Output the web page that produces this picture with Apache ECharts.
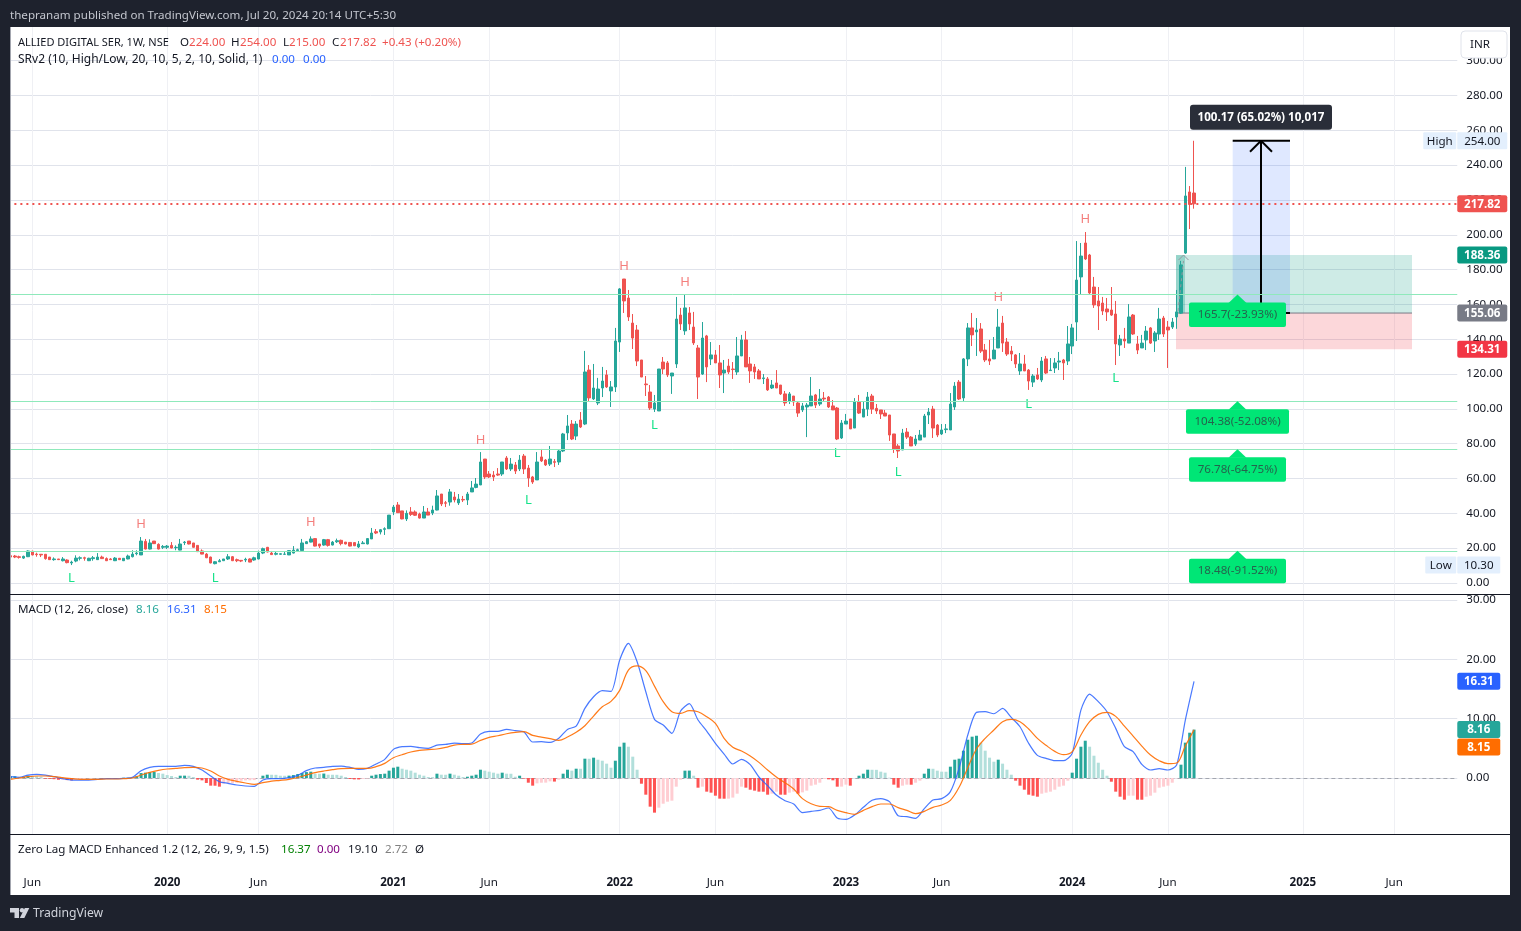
<!DOCTYPE html>
<html><head><meta charset="utf-8"><title>ALLIED DIGITAL SER</title>
<script src="https://cdn.jsdelivr.net/npm/echarts@6/dist/echarts.min.js"></script>
<style>html,body{margin:0;padding:0;background:#1e222d}#c{width:1521px;height:931px}</style></head>
<body><div id="c"></div>
<script>
const FONT='"Noto Sans",sans-serif';
const FS=11.6;
const opens=[15.7,15.5,15.1,14.3,15.1,18.2,16.6,16.5,16.5,14.9,
13.4,13.8,12.8,13.2,11.5,12.6,14.2,14.5,12.8,14.0,
13.4,14.9,14.0,13.8,12.8,14.2,12.8,13.8,15.1,16.8,
16.1,23.9,19.5,24.1,22.2,20.5,20.5,21.6,20.3,18.9,
23.2,24.1,23.0,21.6,18.4,16.6,14.9,11.1,12.2,12.8,
13.8,15.1,13.4,13.0,13.2,13.8,13.2,13.8,17.2,20.5,
17.2,16.5,16.5,16.5,16.1,17.2,18.6,18.6,22.6,23.5,
25.5,22.4,21.8,24.9,21.8,23.7,24.5,23.5,23.3,23.2,
20.7,22.6,22.4,25.3,29.5,29.3,30.8,31.2,40.8,44.8,
41.4,36.8,40.8,40.8,39.6,37.3,40.8,40.2,41.9,51.1,
46.1,46.5,49.4,46.0,48.0,47.7,52.3,54.9,56.3,71.2,
62.6,62.0,62.6,62.6,71.8,65.5,67.8,65.5,72.9,66.0,
60.9,59.2,72.4,70.6,68.3,69.7,69.5,75.8,86.2,91.3,
84.4,93.6,91.3,122.3,105.7,103.4,112.0,119.5,110.3,112.6,
138.4,174.6,163.7,149.3,145.3,128.1,114.3,109.7,99.9,98.8,
126.9,126.4,118.9,125.8,153.9,144.8,155.1,147.0,135.0,120.0,
141.9,128.7,131.0,126.4,120.6,124.6,122.9,121.2,130.4,139.6,
125.8,124.1,121.8,117.4,117.2,112.0,114.9,113.7,108.6,104.5,
107.4,103.4,99.4,101.1,101.7,108.0,102.8,106.2,106.8,101.7,
100.5,83.3,91.3,94.2,89.0,104.0,95.3,99.9,107.4,100.3,
99.4,97.6,96.5,85.6,78.7,76.4,86.7,83.8,79.8,82.1,
83.8,96.5,99.9,90.7,85.6,88.1,87.9,101.1,115.4,106.3,
128.7,146.5,144.2,145.9,133.8,128.7,128.7,135.0,149.3,138.4,
133.2,131.0,121.8,125.8,122.3,115.4,119.5,116.6,128.7,122.0,
123.5,126.9,128.1,127.5,136.1,149.9,175.8,195.3,188.4,170.0,
162.0,160.8,157.4,156.8,154.5,136.7,140.1,137.8,153.9,137.3,
135.0,139.6,146.5,139.0,143.0,152.2,147.0,147.0,152.8,155.0,
189.5,224.6,224.0];
const highs=[16.1,16.1,15.7,15.7,18.8,18.6,17.4,16.6,16.6,14.9,
14.7,13.8,14.9,13.6,12.8,15.9,15.3,15.1,14.5,15.5,
17.2,15.7,14.7,14.3,14.9,14.3,14.3,16.3,18.8,18.8,
26.4,25.3,25.1,24.1,22.8,21.8,21.8,23.5,21.6,25.3,
24.1,24.1,23.0,21.6,19.3,17.2,15.1,12.6,13.8,13.8,
16.6,15.5,14.0,13.2,14.5,14.2,15.1,18.6,20.3,20.7,
18.4,17.8,17.0,17.8,18.9,21.2,19.7,25.3,24.1,26.8,
25.6,22.4,25.3,25.3,24.1,25.5,24.9,23.5,23.3,23.2,
24.1,24.1,25.8,31.6,31.0,31.0,32.0,39.0,44.8,46.5,
41.4,41.7,43.6,41.7,40.4,44.2,43.1,44.4,53.4,51.1,
47.1,54.0,52.3,51.1,50.0,52.3,58.6,60.3,75.2,71.2,
64.3,64.3,66.0,69.5,72.9,71.8,69.5,73.5,74.1,67.8,
61.5,75.2,77.0,71.2,78.7,71.2,76.4,86.2,96.5,93.6,
93.0,98.2,133.3,125.2,125.8,117.8,124.1,122.3,116.0,146.5,
169.4,174.6,168.3,154.5,148.2,128.1,118.9,113.7,108.0,122.9,
129.8,127.5,120.6,164.3,158.0,166.0,158.5,155.7,136.7,149.9,
142.5,138.4,133.8,136.7,128.1,128.7,126.9,141.3,142.5,144.7,
129.8,125.8,122.9,120.0,118.3,116.6,122.3,113.7,110.3,109.7,
107.4,104.0,103.4,103.4,118.3,108.6,111.4,109.7,107.4,105.1,
101.1,93.6,97.1,94.2,106.2,108.0,104.5,109.7,108.6,102.8,
99.4,99.4,96.5,85.6,79.8,88.5,89.0,84.4,85.0,87.9,
97.1,100.5,101.7,91.3,91.3,91.3,109.1,115.4,116.6,129.2,
149.3,155.1,152.2,149.3,137.3,139.6,141.3,157.4,153.4,140.7,
136.1,131.5,132.1,131.0,122.9,120.0,123.5,129.8,130.4,129.2,
129.2,132.7,128.7,147.6,148.8,196.4,195.3,201.6,189.0,175.8,
170.0,164.3,163.7,170.0,162.0,142.5,146.5,160.2,154.5,141.9,
142.5,147.6,147.0,144.7,158.0,153.4,150.5,152.2,168.3,185.0,
239.0,228.0,254.0];
const lows=[14.3,14.3,14.0,13.8,14.9,15.9,15.1,14.9,13.4,13.2,
12.8,13.2,12.4,11.3,10.3,11.9,13.0,12.8,12.6,12.8,
13.2,13.8,12.6,13.2,12.6,13.2,12.6,13.6,14.7,15.9,
16.1,19.3,19.3,22.4,19.3,19.5,19.5,19.9,18.8,18.8,
21.8,22.2,20.3,17.8,16.5,14.3,11.3,10.7,12.0,12.8,
13.2,12.6,12.0,12.0,12.0,11.9,12.8,13.6,16.6,17.6,
16.1,15.9,16.3,16.1,16.1,17.0,18.0,18.4,22.4,23.3,
21.0,20.1,21.4,20.9,21.6,23.0,21.6,22.2,21.0,21.2,
20.1,22.4,22.2,25.3,28.1,27.9,27.6,31.0,39.0,40.2,
36.6,35.6,38.5,38.5,37.0,37.3,39.0,39.0,41.7,44.2,
43.6,44.4,46.3,44.8,46.5,44.8,52.3,54.4,56.3,59.7,
60.3,58.6,61.5,61.5,64.9,64.3,62.6,64.3,62.6,55.2,
56.9,59.2,69.5,67.2,67.2,66.6,67.8,75.2,82.1,82.1,
82.1,89.0,90.7,104.5,105.1,102.2,106.8,112.0,101.1,109.7,
132.7,155.1,150.5,134.4,124.6,118.3,107.4,99.4,98.2,98.8,
120.0,118.3,108.6,123.5,145.3,142.5,145.3,136.7,105.7,119.5,
115.4,125.2,126.4,112.0,109.1,120.0,117.2,119.5,130.4,124.1,
114.9,117.2,117.2,114.3,110.3,111.4,112.0,108.0,101.7,102.8,
101.7,95.4,98.2,83.8,101.7,100.5,101.7,104.5,100.5,99.4,
82.1,82.7,91.3,88.5,89.0,97.1,95.3,95.9,97.1,97.1,
94.2,95.9,81.6,74.7,71.8,76.4,82.7,78.7,78.7,82.1,
83.8,91.3,83.3,83.8,85.0,86.1,87.9,99.4,105.1,104.0,
124.6,136.1,130.4,132.1,126.9,125.2,128.7,135.0,132.7,130.4,
127.5,123.5,119.5,121.8,110.9,112.6,116.6,115.4,120.0,121.8,
120.6,122.3,116.6,125.2,131.5,139.0,166.0,185.5,166.0,158.0,
145.3,153.9,150.5,153.4,125.2,130.4,135.0,137.8,142.5,131.5,
135.0,133.8,137.3,132.7,139.6,141.3,123.5,145.9,146.0,154.5,
189.0,203.3,215.0];
const closes=[14.9,14.9,14.7,15.3,18.4,16.1,16.3,16.1,14.0,13.4,
13.8,13.4,13.8,11.7,12.0,14.3,14.5,14.2,14.2,14.5,
14.9,14.0,12.8,13.4,14.3,13.4,14.2,15.5,16.6,17.2,
24.1,19.5,23.0,22.6,19.5,21.0,21.2,20.1,20.5,22.4,
23.5,22.4,20.5,18.0,16.6,14.5,11.5,12.2,12.8,13.8,
15.1,12.8,12.8,12.6,13.6,12.0,14.5,17.2,19.7,17.8,
16.3,17.0,16.8,16.6,18.6,18.9,19.1,23.0,23.7,25.3,
21.2,21.2,24.9,21.6,23.5,24.3,22.6,22.4,21.2,21.4,
22.4,23.0,25.5,28.7,28.7,30.6,31.2,39.0,43.6,40.4,
36.8,40.0,39.4,38.9,37.3,40.8,39.0,41.9,50.0,45.4,
45.8,52.3,47.7,48.2,47.7,51.1,54.6,56.8,69.5,60.9,
60.9,60.9,62.0,69.5,65.5,68.3,64.3,70.6,65.5,60.3,
58.0,69.5,70.1,67.8,71.2,69.3,75.8,85.6,90.2,82.7,
91.3,89.6,121.2,106.3,112.0,111.4,116.0,112.6,112.6,139.0,
168.9,162.0,152.8,140.7,127.5,118.3,113.9,100.5,103.4,122.9,
122.9,119.5,120.6,151.6,148.8,158.0,148.8,137.9,118.3,140.7,
124.1,131.0,126.4,119.5,122.3,121.2,122.6,130.4,139.6,124.1,
121.8,121.2,117.2,117.8,110.9,113.7,112.0,108.6,103.4,108.6,
104.0,97.6,101.7,102.2,107.4,102.2,105.7,105.7,101.1,99.4,
82.7,91.9,93.0,88.5,104.0,97.6,99.9,106.8,99.9,98.8,
97.1,95.9,85.0,77.0,75.8,86.1,83.8,78.7,82.7,85.0,
95.9,98.2,89.0,85.0,87.9,88.5,102.8,113.1,105.7,128.7,
146.5,142.5,145.3,133.2,128.1,127.5,133.8,147.0,137.8,131.5,
131.5,125.8,125.8,121.8,116.0,118.9,117.2,127.5,120.6,122.3,
126.4,127.5,126.4,137.3,146.5,174.0,187.8,186.1,166.6,159.7,
159.1,156.2,155.7,153.9,137.3,140.1,139.0,152.8,143.0,133.8,
137.8,144.7,137.8,143.6,151.6,143.0,145.3,149.9,155.7,182.7,
222.3,217.39,217.82];
const histogram=[.3,.3,.2,.2,.4,.35,.3,.2,-.1,-.15,
-.2,-.3,-.3,-.35,-.4,-.2,-.15,-.1,-.05,-.05,
0,0,0,0,0,0,.05,.05,.1,.3,
.84,.9,1,1.01,.84,.73,.5,.34,.17,.39,
.4,.38,.17,-.28,-.39,-.84,-1.29,-1.3,-1.46,-.95,
-.9,-.85,-.8,-.45,-.4,-.38,-.35,0,.39,.56,
.55,.54,.39,.38,.4,.5,.67,.84,1,1.07,
.73,.72,.75,.56,.55,.54,.39,.17,-.17,-.23,
-.24,-.17,-.1,.39,.56,.67,.73,1.24,1.74,1.91,
1.57,1.4,1.24,.9,.56,.39,.17,.15,.73,.56,
.55,.73,.56,.39,.17,.22,.39,.56,1.4,1.24,
1.07,.9,.73,.9,.73,.72,.22,.39,-.1,-.79,
-1.29,-.9,-.79,-.78,-.56,-.6,-.28,.73,1.4,1.24,
1.57,1.56,3.26,3.25,3.43,3.09,2.92,2.42,1.74,2.92,
5.28,5.96,5.28,3.6,1.4,-.96,-2.81,-4.83,-5.84,-5,
-4.33,-3.99,-3.82,-1.46,-.28,1.24,1.25,.39,-1.63,-1.46,
-2.3,-2.47,-2.98,-3.48,-3.49,-3.48,-3.3,-2.64,-1.46,-1.63,
-1.97,-2.13,-2.3,-2.31,-2.81,-2.64,-2.3,-2.81,-2.82,-2.47,
-2.3,-2.64,-2.42,-2.13,-1.29,-1.12,-.79,-.17,-.22,-.39,
-1.46,-1.45,-1.12,-1.29,0,.39,.73,1.4,1.39,1.38,
1.07,.9,.05,-1.12,-1.63,-1.29,-1.12,-1.13,-.79,-.45,
.73,1.57,1.56,1.24,1.07,1.06,1.91,3.09,3.26,4.61,
6.46,6.97,7.13,5.96,4.61,3.43,2.75,3.09,2.42,1.4,
.56,-.45,-1.29,-1.97,-2.81,-2.98,-3.15,-2.64,-2.47,-2.3,
-1.97,-1.46,-1.29,-.45,.9,3.26,5.28,6.29,5.28,3.76,
2.58,1.4,.39,-.62,-2.3,-3.15,-3.65,-2.98,-2.97,-3.65,
-3.66,-3.15,-2.98,-2.47,-1.63,-1.46,-1.29,-.79,-.05,2.25,
5.96,7.64,8.16];
// MACD lines, read every second week
const macdLine=[.22,.11,.5,.62,.5,.22,-.11,-.34,-.34,-.34,-.22,-.11,-.11,-.06,.11,1.24,1.8,1.97,1.97,1.97,2.13,1.97,1.35,.34,-.62,-.9,-1.18,-1.35,-1.4,-.34,-.11,-.11,.06,.45,1.24,1.69,1.8,1.97,2.02,1.8,1.46,1.63,2.36,3.15,4.83,5.28,
5.34,5.11,5.0,5.56,5.67,5.9,5.79,5.9,7.42,7.87,7.87,8.2,7.98,7.75,6.07,6.12,6.01,6.69,8.2,8.76,11.74,13.7,14.72,14.6,19.9,22.7,19.6,14.55,9.89,8.93,7.53,11.3,12.53,9.78,7.92,5.84,4.04,2.36,3.15,2.25,.17,-1.29,-2.87,-3.82,-4.38,
-5.84,-5.62,-5.45,-5.06,-6.74,-6.97,-6.24,-4.94,-3.76,-3.48,-3.99,-6.35,-6.52,-6.8,-5.17,-3.71,-3.48,-2.3,1.63,7.25,11.07,11.18,10.84,11.74,10.22,8.65,5.84,3.82,3.31,2.92,2.92,4.16,11.46,14.16,12.87,11.18,8.37,5.28,4.44,2.3,1.35,1.57,1.35,2.19,9.78,16.31];
const signalLine=[-.22,0,.22,.34,.34,.22,.06,-.11,-.22,-.22,-.22,-.17,-.17,-.11,0,.5,.96,1.29,1.52,1.63,1.74,1.8,1.69,1.18,.34,-.22,-.56,-.84,-1.07,-.79,-.51,-.39,-.22,.11,.5,.9,1.18,1.4,1.57,1.63,1.63,1.63,1.91,2.47,3.43,3.93,
4.38,4.66,4.78,4.89,5.17,5.56,5.67,5.73,6.35,6.85,7.13,7.47,7.7,7.81,7.19,6.91,6.63,6.35,6.91,7.7,8.82,10.45,12.02,12.92,14.78,18.2,18.9,18.09,15.5,12.87,11.18,10.9,11.35,11.18,10.34,9.21,6.69,5.17,4.55,3.71,2.64,1.35,.17,-.79,-1.85,
-3.48,-4.33,-4.78,-4.83,-5.45,-5.84,-6.12,-5.45,-4.83,-4.38,-4.38,-5.0,-5.45,-6.01,-5.62,-4.94,-4.55,-3.76,-1.57,1.74,4.89,6.69,8.09,9.49,9.89,9.49,8.26,6.69,5.51,4.49,3.93,4.44,7.25,9.49,10.73,11.07,10.39,8.76,7.08,5.39,3.88,2.92,2.42,2.53,5.39,8.15];
const tickIndex=[5,36,57,88,110,140,162,192,214,244,266,297,318];
const tickLabels=['Jun','2020','Jun','2021','Jun','2022','Jun','2023','Jun','2024','Jun','2025','Jun'];
const priceTicks=[0,20,40,60,80,100,120,140,160,180,200,220,240,260,280,300];
const macdTicks=[0,10,20,30];
const supportLevels=[165.7,104.38,76.78,18.48];
const supportLabels=['165.7(-23.93%)','104.38(-52.08%)','76.78(-64.75%)','18.48(-91.52%)'];
const highMarks=[[30,34.5],[69,35.6],[108,82.7],[141,182.7],[155,173.5],[227,164.8],[247,209.6]];
const lowMarks=[[14,3.4],[47,3.4],[119,48.2],[148,91.3],[190,75.2],[204,64.3],[234,103.4],[254,118.3]];
const priceTagValues=[217.82,188.36,155.06,134.31];
const priceTagColors=['#ef5350','#089981','#787b86','#f23645'];
const macdTagValues=[16.31,8.16,5.23];
const macdTagLabels=['16.31','8.16','8.15'];
const macdTagColors=['#2962ff','#26a69a','#ff6d00'];
const last=217.82,entry=155.06,target=188.36,stop=134.31,high=254,low=10.3;

const BAND=333, L=8.37, W=1448.9;
const categories=Array.from({length:BAND},(_,i)=>String(i));
const candles=opens.map((o,i)=>[o,closes[i],lows[i],highs[i]]);
const GRID='#e0e3eb',VG='#eff0f4',TXT='#131722';
const xv=p=>(p-L)/(W/BAND);   // pane pixel to continuous week position for drawing tools

function tagShape(x,y,w,h,fill,r){return {type:'rect',shape:{x,y,width:w,height:h,r:r==null?2:r},style:{fill}};}
function textEl(x,y,t,fill,size,weight,align){return {type:'text',style:{x,y:y+1,text:t,fill,font:(weight||'normal')+' '+(size||FS)+'px '+FONT,textAlign:align||'center',textVerticalAlign:'middle'}};}

const valueX=(grid,extra)=>Object.assign({type:'value',gridIndex:grid,min:0,max:BAND,position:'bottom',
  axisLine:{show:false},axisTick:{show:false,customValues:tickIndex.map(i=>i+.5)},
  axisLabel:{show:false,customValues:tickIndex.map(i=>i+.5)},
  splitLine:{show:grid!==2,lineStyle:{color:VG,width:1}}},extra||{});

const t=(x,y,text,fill,o)=>Object.assign({type:'text',z:110,silent:true,style:{x,y:y+1,text,fill,font:((o&&o.w)||'normal')+' '+((o&&o.s)||FS)+'px '+FONT,textVerticalAlign:'middle'}});

const graphic=[
 {type:'rect',z:-10,silent:true,shape:{x:10,y:27,width:1500,height:868},style:{fill:'#fff'}},
 {type:'rect',z:100,silent:true,shape:{x:0,y:27,width:10,height:868},style:{fill:'#1e222d'}},
 {type:'rect',z:100,silent:true,shape:{x:10,y:27,width:1,height:868},style:{fill:'#a3a6af'}},
 {type:'rect',z:100,silent:true,shape:{x:10,y:594,width:1500,height:1},style:{fill:'#131722'}},
 {type:'rect',z:100,silent:true,shape:{x:10,y:834,width:1500,height:1},style:{fill:'#131722'}},
 {type:'rect',z:100,silent:true,shape:{x:1461,y:31,width:46,height:27,r:4},style:{fill:'#fff',stroke:'#e0e3eb',lineWidth:1}},
 t(1470,44,'INR',TXT),
 t(10,14.5,'thepranam published on TradingView.com, Jul 20, 2024 20:14 UTC+5:30','#c3c6ce'),
 t(18,41.5,'ALLIED DIGITAL SER, 1W, NSE',TXT,{s:11}),
 t(180,41.5,'O',TXT),t(189,41.5,'224.00','#ef5350'),
 t(231,41.5,'H',TXT),t(240,41.5,'254.00','#ef5350'),
 t(283,41.5,'L',TXT),t(289,41.5,'215.00','#ef5350'),
 t(332,41.5,'C',TXT),t(340,41.5,'217.82','#ef5350'),
 t(382,41.5,'+0.43 (+0.20%)','#ef5350'),
 t(18,58.5,'SRv2 (10, High/Low, 20, 10, 5, 2, 10, Solid, 1)',TXT,{s:12}),
 t(272,58.5,'0.00','#2962ff'),t(303,58.5,'0.00','#2962ff'),
 t(18,609,'MACD (12, 26, close)',TXT),
 t(136,609,'8.16','#26a69a'),t(167,609,'16.31','#2962ff'),t(204,609,'8.15','#ff6d00'),
 t(18,849,'Zero Lag MACD Enhanced 1.2 (12, 26, 9, 9, 1.5)',TXT),
 t(281,849,'16.37','#008000'),t(317,849,'0.00','#800080'),t(348,849,'19.10',TXT),t(385,849,'2.72','#808080'),t(415,849,'Ø',TXT),
 {type:'polygon',z:110,silent:true,shape:{points:[[10,908],[19,908],[19,918],[14.5,918],[14.5,912.5],[10,912.5]]},style:{fill:'#d1d4dc'}},
 {type:'circle',z:110,silent:true,shape:{cx:22,cy:910.2,r:2.2},style:{fill:'#d1d4dc'}},
 {type:'polygon',z:110,silent:true,shape:{points:[[24.8,908],[29.3,908],[24.3,918],[19.8,918]]},style:{fill:'#d1d4dc'}},
 t(33,912.5,'TradingView','#d1d4dc',{s:12.2})
];

const option={
 animation:false,backgroundColor:'#1e222d',graphic,
 grid:[{left:L,width:W,top:27,height:567},{left:L,width:W,top:595,height:239},{left:L,width:W,top:835,height:35}],
 xAxis:[
  {type:'category',gridIndex:0,data:categories,show:false},
  {type:'category',gridIndex:1,data:categories,show:false},
  valueX(0),valueX(1),
  valueX(2,{axisLabel:{show:true,customValues:tickIndex.map(i=>i+.5),margin:7,color:TXT,fontFamily:FONT,fontSize:FS,
    formatter:v=>{const s=tickLabels[tickIndex.indexOf(Math.round(v-.5))]||'';return /^\d/.test(s)?'{y|'+s+'}':s;},
    rich:{y:{fontWeight:'bold',color:TXT,fontFamily:FONT,fontSize:FS}}}})
 ],
 yAxis:[
  {type:'value',gridIndex:0,position:'right',min:-6.32,max:319.35,
   axisLine:{show:false},axisTick:{show:false,customValues:priceTicks},
   axisLabel:{customValues:priceTicks,margin:9,padding:[2,0,0,0],color:TXT,fontFamily:FONT,fontSize:FS,formatter:v=>v.toFixed(2)},
   splitLine:{show:true,lineStyle:{color:GRID,width:1}}},
  {type:'value',gridIndex:1,position:'right',min:-9.44,max:30.86,
   axisLine:{show:false},axisTick:{show:false,customValues:macdTicks},
   axisLabel:{customValues:macdTicks,margin:9,padding:[2,0,0,0],color:TXT,fontFamily:FONT,fontSize:FS,formatter:v=>v.toFixed(2)},
   splitLine:{show:true,lineStyle:{color:GRID,width:1}}},
  {type:'value',gridIndex:2,show:false,min:0,max:1}
 ],
 series:[
  // long-position shading and measuring box
  {type:'custom',xAxisIndex:2,yAxisIndex:0,z:1,silent:true,data:[[0,0]],renderItem:(p,api)=>{
    const X=api.coord([xv(1176),0])[0],X2=api.coord([xv(1412),0])[0],B=api.coord([xv(1185),0])[0];
    const yT=api.coord([0,target])[1],yE=api.coord([0,entry])[1],yS=api.coord([0,stop])[1],yH=api.coord([0,high])[1];
    const M1=api.coord([xv(1232.7),0])[0],M2=api.coord([xv(1290),0])[0];
    return {type:'group',children:[
     tagShape(X,yT,X2-X,yE-yT,'rgba(8,153,129,0.2)',0),
     tagShape(X,yE,X2-X,yS-yE,'rgba(242,54,69,0.2)',0),
     tagShape(X,yT,B-X,yE-yT,'rgba(8,153,129,0.28)',0),
     tagShape(M1,yH,M2-M1,yE-yH,'rgba(41,98,255,0.15)',0),
     {type:'line',shape:{x1:X,y1:yE,x2:X2,y2:yE},style:{stroke:'#787b86',lineWidth:1}}
    ]};
  }},
  {type:'candlestick',xAxisIndex:0,yAxisIndex:0,z:2,barWidth:3,silent:true,data:candles,
   itemStyle:{color:'#26a69a',color0:'#ef5350',borderColor:'#26a69a',borderColor0:'#ef5350',borderWidth:1},
   markLine:{silent:true,symbol:'none',label:{show:false},animation:false,
    data:supportLevels.map(v=>({yAxis:v,lineStyle:{color:'#8fe9bb',width:1,type:'solid'}})).concat([{yAxis:last,lineStyle:{color:'#ef5350',width:2,type:[2,4]}}])}},
  // arrow of the measuring tool
  {type:'custom',xAxisIndex:2,yAxisIndex:0,z:3,silent:true,data:[[0,0]],renderItem:(p,api)=>{
    const cx=api.coord([xv(1261),0])[0],yH=api.coord([0,high])[1],yE=api.coord([0,entry])[1];
    const M1=api.coord([xv(1232.7),0])[0],M2=api.coord([xv(1290),0])[0];
    const a=api.coord([xv(1178),0])[0],b=api.coord([xv(1183.5),0])[0],yT=api.coord([0,target])[1];
    const ln=(x1,y1,x2,y2,w)=>({type:'line',shape:{x1,y1,x2,y2},style:{stroke:'#000',lineWidth:w}});
    return {type:'group',children:[
     ln(M1,yH,M2,yH,2),ln(M1,yE,M2,yE,2),ln(cx,yH,cx,yE,2),ln(cx,yH,cx-11,yH+11,2),ln(cx,yH,cx+11,yH+11,2),
     {type:'line',shape:{x1:a,y1:yE-2,x2:b,y2:yT+6},style:{stroke:'#9598a1',lineWidth:1,lineDash:[3,3]}},
     {type:'polyline',shape:{points:[[b-5,yT+5],[b,yT],[b+5,yT+5]]},style:{stroke:'#9598a1',lineWidth:1,fill:'none'}}
    ]};
  }},
  // H / L pivot marks
  {type:'custom',xAxisIndex:0,yAxisIndex:0,z:4,silent:true,data:highMarks,renderItem:(p,api)=>{
    const c=api.coord([api.value(0),api.value(1)]);
    return textEl(c[0],c[1],'H','#f47f7d',13);
  }},
  {type:'custom',xAxisIndex:0,yAxisIndex:0,z:4,silent:true,data:lowMarks,renderItem:(p,api)=>{
    const c=api.coord([api.value(0),api.value(1)]);
    return textEl(c[0],c[1],'L','#17e28a',13);
  }},
  // support level labels
  {type:'custom',xAxisIndex:2,yAxisIndex:0,z:5,silent:true,data:supportLevels.map(v=>[xv(1237.5),v]),renderItem:(p,api)=>{
    const c=api.coord([api.value(0),api.value(1)]),w=p.dataIndex===1?103:97;
    return {type:'group',children:[
      {type:'polygon',shape:{points:[[c[0],c[1]],[c[0]+9,c[1]+8.5],[c[0]-9,c[1]+8.5]]},style:{fill:'#00e676'}},
      tagShape(c[0]-w/2,c[1]+8,w,24.5,'#00e676',2),
      textEl(c[0],c[1]+19,supportLabels[p.dataIndex],'#25634d',FS)
    ]};
  }},
  // measure caption
  {type:'custom',xAxisIndex:2,yAxisIndex:0,z:6,silent:true,data:[[xv(1261),high]],renderItem:(p,api)=>{
    const c=api.coord([api.value(0),api.value(1)]);
    return {type:'group',children:[
      tagShape(c[0]-71,c[1]-36,142,25,'#2a2e39',3),
      textEl(c[0],c[1]-24.5,'100.17 (65.02%) 10,017','#fff',11.6,'bold')
    ]};
  }},
  // price scale tags
  {type:'custom',xAxisIndex:2,yAxisIndex:0,z:7,silent:true,data:priceTagValues.map(v=>[BAND,v]),renderItem:(p,api)=>{
    const c=api.coord([api.value(0),api.value(1)]);
    return {type:'group',children:[tagShape(c[0],c[1]-8.5,50,17,priceTagColors[p.dataIndex]),
      textEl(c[0]+25,c[1]-.5,priceTagValues[p.dataIndex].toFixed(2),'#fff',11.6,'bold')]};
  }},
  {type:'custom',xAxisIndex:2,yAxisIndex:0,z:7,silent:true,data:[[BAND,high],[BAND,low]],renderItem:(p,api)=>{
    const c=api.coord([api.value(0),api.value(1)]),hi=p.dataIndex===0;
    const lab=hi?'High':'Low',val=hi?'254.00':'10.30',w=hi?50:43,lw=hi?33:31;
    return {type:'group',children:[
      tagShape(c[0]-lw-1,c[1]-8.5,lw,17,'#e3effd',1),textEl(c[0]-lw/2-1,c[1]-.5,lab,'#131722'),
      tagShape(c[0],c[1]-8.5,w,17,'#e3effd',1),textEl(c[0]+w/2,c[1]-.5,val,'#131722')]};
  }},
  // MACD
  {type:'bar',xAxisIndex:1,yAxisIndex:1,z:2,barWidth:3,silent:true,data:histogram,
   itemStyle:{color:p=>{const v=p.value,prev=p.dataIndex?histogram[p.dataIndex-1]:0;
     return v>=0?(v>=prev?'#26a69a':'#b2dfdb'):(v<prev?'#ff5252':'#ffcdd2');}},
   markLine:{silent:true,symbol:'none',label:{show:false},animation:false,z:1,
     data:[{yAxis:0,lineStyle:{color:'#a3a6af',width:1,type:[4,3]}}]}},
  {type:'line',xAxisIndex:1,yAxisIndex:1,z:3,silent:true,symbol:'none',smooth:.25,data:macdLine.map((v,k)=>[k*2,v]),lineStyle:{color:'#2962ff',width:1.2,opacity:.85}},
  {type:'line',xAxisIndex:1,yAxisIndex:1,z:4,silent:true,symbol:'none',smooth:.35,data:signalLine.map((v,k)=>[k*2,v]),lineStyle:{color:'#ff6d00',width:1.2,opacity:.9}},
  {type:'custom',xAxisIndex:3,yAxisIndex:1,z:7,silent:true,data:macdTagValues.map(v=>[BAND,v]),renderItem:(p,api)=>{
    const c=api.coord([api.value(0),api.value(1)]);
    return {type:'group',children:[tagShape(c[0],c[1]-8.5,43,17,macdTagColors[p.dataIndex]),
      textEl(c[0]+21.5,c[1]-.5,macdTagLabels[p.dataIndex],'#fff',11.6,'bold')]};
  }}
 ]
};
echarts.init(document.getElementById('c')).setOption(option);
</script></body></html>
